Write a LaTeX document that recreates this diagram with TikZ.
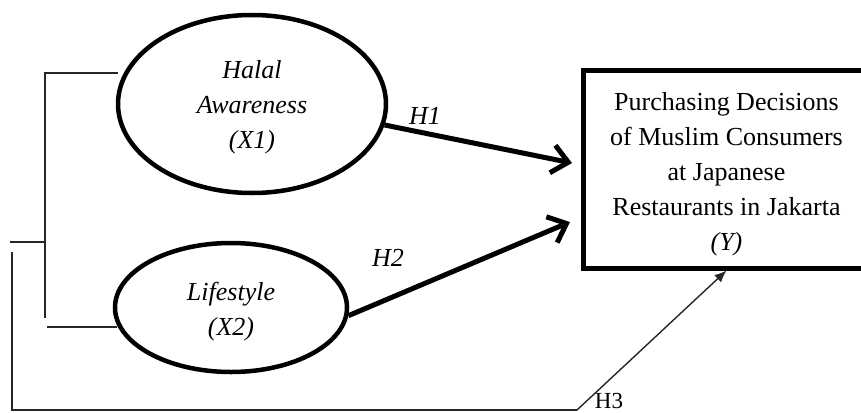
\documentclass[tikz,border=0pt]{standalone}
\usepackage{fontspec}
\setmainfont{Liberation Serif}
\usetikzlibrary{arrows.meta,shapes.geometric}
\begin{document}
\begin{tikzpicture}[x=1pt,y=-1pt,
  latent/.style={ellipse,draw,line width=4.5pt,inner sep=0pt,align=center,
    font=\fontsize{26}{35}\selectfont\itshape},
  outcome/.style={rectangle,draw,line width=5pt,inner sep=0pt,align=center,
    font=\fontsize{26}{35}\selectfont},
  patharrow/.style={line width=5pt,-{Straight Barb[length=16pt,width=28pt]}},
  thinline/.style={line width=1.4pt,black!85},
  hlabel/.style={font=\fontsize{26}{30}\selectfont\itshape}]
\useasboundingbox (0,0) rectangle (861,412);
\clip (0,0) rectangle (861,412);

% constructs
\node[latent,minimum width=268pt,minimum height=178pt] (e1) at (252,104)
  {\rule{0pt}{25pt}Halal\\Awareness\\(X1)};
\node[latent,minimum width=232pt,minimum height=129pt] (e2) at (231,307.5)
  {\rule{0pt}{27pt}Lifestyle\\(X2)};
\node[outcome,minimum width=287pt,minimum height=198pt] (y) at (726.5,169)
  {\rule{0pt}{29pt}Purchasing Decisions\\of Muslim Consumers\\at Japanese\\Restaurants in Jakarta\\\textit{(Y)}};

% free ends
\coordinate (h1end) at (572,163);
\coordinate (h2end) at (570,222);
\coordinate (bt) at (45,73);
\coordinate (bte) at (118,73);
\coordinate (bb) at (45,318);
\coordinate (bbs) at (47,327);
\coordinate (bbe) at (117,327);
\coordinate (bm) at (45,242);
\coordinate (bml) at (10,242);
\coordinate (ot) at (12,252);
\coordinate (ob) at (12,410);
\coordinate (obr) at (577,410);

% hypotheses
\draw[patharrow] (e1.-9) -- (h1end);
\draw[patharrow] (e2.-4) -- (h2end);
\node[hlabel] (h1) at (425,116) {H1};
\node[hlabel] (h2) at (388,258) {H2};

% bracket lines
\draw[thinline] (bte) -- (bt) -- (bb);
\draw[thinline] (bbs) -- (bbe);
\draw[thinline] (bml) -- (bm);
\draw[thinline] (ot) -- (ob) -- (obr);
\draw[thinline,-{Latex[length=12pt,width=10pt]}] (obr) -- (y.south);
\node[font=\fontsize{23}{26}\selectfont] (h3) at (609,401) {H3};
\end{tikzpicture}
\end{document}
